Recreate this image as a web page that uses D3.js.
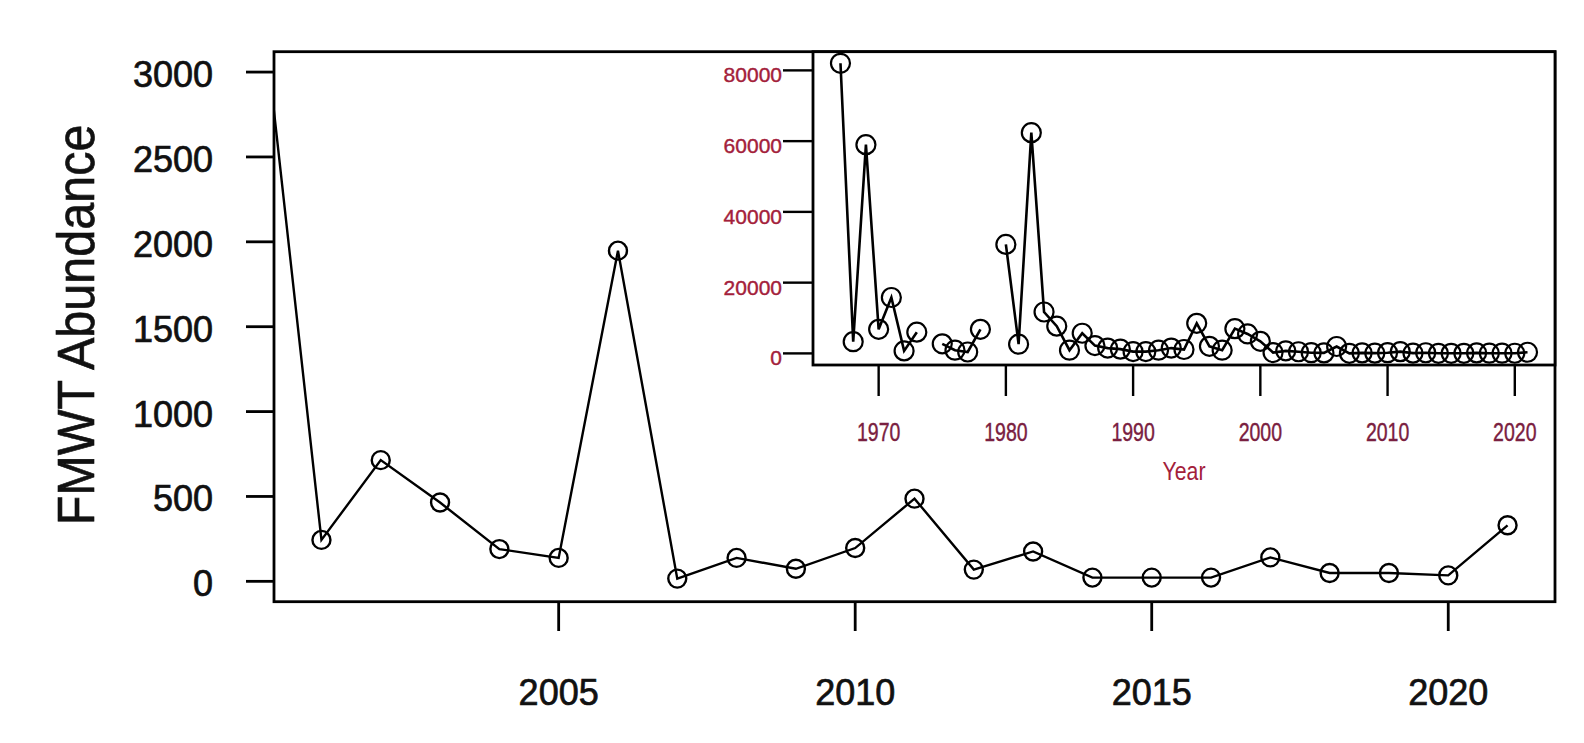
<!DOCTYPE html>
<html>
<head>
<meta charset="utf-8">
<script src="https://cdn.jsdelivr.net/npm/d3@7"></script>
<style>
  body { margin: 0; background: #fff; }
  text { font-family: "Liberation Sans", Arial, sans-serif; }
</style>
</head>
<body>
<script>
// FMWT abundance by year (null = no survey that year)
var years = d3.range(1967, 2022);
var abundance = [
    82000, 3300, 59000, 6800, 15800, 700, 6000, null, 2700, 900,
    400, 6800, null, 30800, 2600, 62400, 11700, 7700, 900, 5700,
    2200, 1500, 1200, 500, 500, 900, 1500, 1100, 8500, 2000,
    900, 7000, 5500, 3400, 244, 714, 464, 190, 138, 1948,
    16, 138, 74, 196, 487, 69, 176, 22, 22, 22,
    141, 49, 49, 35, 330
];

var mainYTicks = [0, 500, 1000, 1500, 2000, 2500, 3000];
var mainXTicks = [2005, 2010, 2015, 2020];
var insetYTicks = [0, 20000, 40000, 60000, 80000];
var insetXTicks = [1970, 1980, 1990, 2000, 2010, 2020];

var series = years.map(function (y, i) { return { year: y, value: abundance[i] }; });
var recent = series.filter(function (d) { return d.year >= 2000; });

var svg = d3.select("body")
    .append("svg")
    .attr("width", 1584)
    .attr("height", 743);

svg.append("rect").attr("width", 1584).attr("height", 743).attr("fill", "#fff");

// ---- main panel ----
var x = d3.scaleLinear().domain([2000.2, 2021.8]).range([274, 1555]);
var y = d3.scaleLinear().domain([-120, 3120]).range([601.7, 51.7]);

svg.append("clipPath").attr("id", "mainclip")
    .append("rect")
    .attr("x", 274).attr("y", 51.7)
    .attr("width", 1555 - 274).attr("height", 601.7 - 51.7);

var line = d3.line()
    .defined(function (d) { return d.value != null; })
    .x(function (d) { return x(d.year); })
    .y(function (d) { return y(d.value); });

var main = svg.append("g").attr("clip-path", "url(#mainclip)");

main.append("path")
    .datum(recent)
    .attr("d", line)
    .attr("fill", "none")
    .attr("stroke", "#000")
    .attr("stroke-width", 2.4);

main.selectAll("circle")
    .data(recent)
    .enter()
    .append("circle")
    .attr("cx", function (d) { return x(d.year); })
    .attr("cy", function (d) { return y(d.value); })
    .attr("r", 9)
    .attr("fill", "none")
    .attr("stroke", "#000")
    .attr("stroke-width", 2.4);

// y axis ticks and labels
svg.append("g")
    .selectAll("line")
    .data(mainYTicks)
    .enter()
    .append("line")
    .attr("x1", 246).attr("x2", 274)
    .attr("y1", function (d) { return y(d); })
    .attr("y2", function (d) { return y(d); })
    .attr("stroke", "#000")
    .attr("stroke-width", 2.8);

svg.append("g")
    .selectAll("text")
    .data(mainYTicks)
    .enter()
    .append("text")
    .attr("x", 213)
    .attr("y", function (d) { return y(d) + 15; })
    .attr("text-anchor", "end")
    .attr("font-size", 36)
    .attr("fill", "#111")
    .attr("stroke", "#111")
    .attr("stroke-width", 0.7)
    .text(function (d) { return d; });

// x axis ticks and labels
svg.append("g")
    .selectAll("line")
    .data(mainXTicks)
    .enter()
    .append("line")
    .attr("x1", function (d) { return x(d); })
    .attr("x2", function (d) { return x(d); })
    .attr("y1", 601.7).attr("y2", 631)
    .attr("stroke", "#000")
    .attr("stroke-width", 2.8);

svg.append("g")
    .selectAll("text")
    .data(mainXTicks)
    .enter()
    .append("text")
    .attr("x", function (d) { return x(d); })
    .attr("y", 705)
    .attr("text-anchor", "middle")
    .attr("font-size", 36)
    .attr("fill", "#111")
    .attr("stroke", "#111")
    .attr("stroke-width", 0.7)
    .text(function (d) { return d; });

svg.append("text")
    .attr("transform", "translate(94,325) rotate(-90) scale(1,1.08)")
    .attr("text-anchor", "middle")
    .attr("font-size", 48.5)
    .attr("fill", "#111")
    .attr("stroke", "#111")
    .attr("stroke-width", 0.6)
    .text("FMWT Abundance");

svg.append("rect")
    .attr("x", 274).attr("y", 51.7)
    .attr("width", 1555 - 274).attr("height", 601.7 - 51.7)
    .attr("fill", "none")
    .attr("stroke", "#000")
    .attr("stroke-width", 2.8);

// ---- inset: full record ----
var ix = d3.scaleLinear().domain([1964.84, 2023.16]).range([813, 1555]);
var iy = d3.scaleLinear().domain([-3280, 85280]).range([365, 51.7]);
var insetColor = "#a3203a";

svg.append("rect")
    .attr("x", 813).attr("y", 51.7)
    .attr("width", 1555 - 813).attr("height", 365 - 51.7)
    .attr("fill", "#fff");

var iline = d3.line()
    .defined(function (d) { return d.value != null; })
    .x(function (d) { return ix(d.year); })
    .y(function (d) { return iy(d.value); });

var inset = svg.append("g");

inset.append("path")
    .datum(series)
    .attr("d", iline)
    .attr("fill", "none")
    .attr("stroke", "#000")
    .attr("stroke-width", 2.6);

inset.selectAll("circle")
    .data(series.filter(function (d) { return d.value != null; }))
    .enter()
    .append("circle")
    .attr("cx", function (d) { return ix(d.year); })
    .attr("cy", function (d) { return iy(d.value); })
    .attr("r", 9.5)
    .attr("fill", "none")
    .attr("stroke", "#000")
    .attr("stroke-width", 2.2);

svg.append("g")
    .selectAll("line")
    .data(insetYTicks)
    .enter()
    .append("line")
    .attr("x1", 783).attr("x2", 813)
    .attr("y1", function (d) { return iy(d); })
    .attr("y2", function (d) { return iy(d); })
    .attr("stroke", "#000")
    .attr("stroke-width", 2.4);

svg.append("g")
    .selectAll("text")
    .data(insetYTicks)
    .enter()
    .append("text")
    .attr("x", 782)
    .attr("y", function (d) { return iy(d) + 12; })
    .attr("text-anchor", "end")
    .attr("font-size", 21)
    .attr("fill", insetColor)
    .attr("stroke", insetColor)
    .attr("stroke-width", 0.4)
    .text(function (d) { return d; });

svg.append("g")
    .selectAll("line")
    .data(insetXTicks)
    .enter()
    .append("line")
    .attr("x1", function (d) { return ix(d); })
    .attr("x2", function (d) { return ix(d); })
    .attr("y1", 365).attr("y2", 396)
    .attr("stroke", "#000")
    .attr("stroke-width", 2.4);

svg.append("g")
    .selectAll("text")
    .data(insetXTicks)
    .enter()
    .append("text")
    .attr("transform", function (d) { return "translate(" + ix(d) + ",441) scale(0.78,1)"; })
    .attr("text-anchor", "middle")
    .attr("font-size", 25)
    .attr("fill", "#7a2040")
    .attr("stroke", "#7a2040")
    .attr("stroke-width", 0.4)
    .text(function (d) { return d; });

svg.append("text")
    .attr("transform", "translate(1184,480) scale(0.85,1)")
    .attr("text-anchor", "middle")
    .attr("font-size", 25)
    .attr("fill", insetColor)
    .text("Year");

svg.append("rect")
    .attr("x", 813).attr("y", 51.7)
    .attr("width", 1555 - 813).attr("height", 365 - 51.7)
    .attr("fill", "none")
    .attr("stroke", "#000")
    .attr("stroke-width", 2.8);
</script>
</body>
</html>
